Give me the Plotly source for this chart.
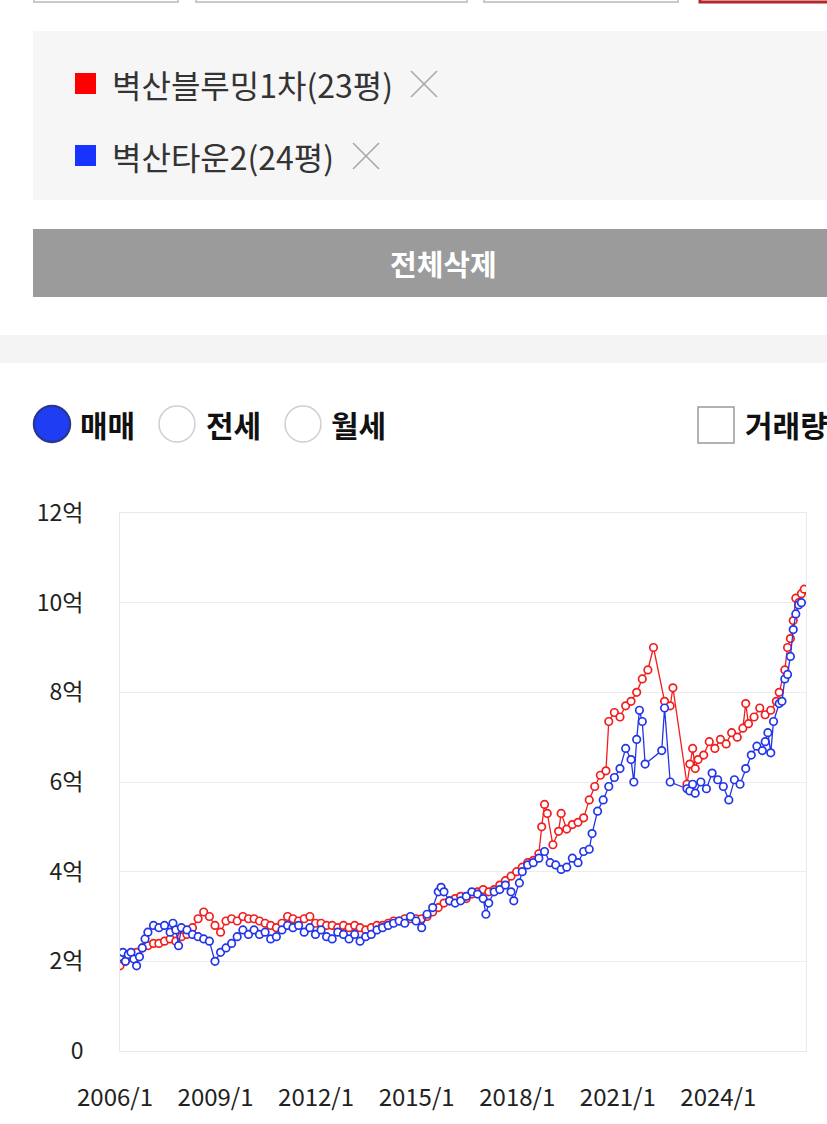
import plotly.graph_objects as go

# 시리즈 데이터 (단위: 억)
red_name = "벽산블루밍1차(23평)"
red_dates = [
    "2006-01", "2006-03", "2006-05", "2006-07", "2006-09", "2006-11",
    "2007-01", "2007-03", "2007-05", "2007-07", "2007-09", "2007-11",
    "2008-01", "2008-03", "2008-05", "2008-07", "2008-09", "2008-11",
    "2009-01", "2009-03", "2009-05", "2009-07", "2009-09", "2009-11",
    "2010-01", "2010-03", "2010-05", "2010-07", "2010-09", "2010-11",
    "2011-01", "2011-03", "2011-05", "2011-07", "2011-09", "2011-11",
    "2012-01", "2012-03", "2012-05", "2012-07", "2012-09", "2012-11",
    "2013-01", "2013-03", "2013-05", "2013-07", "2013-09", "2013-11",
    "2014-01", "2014-03", "2014-05", "2014-07", "2014-09", "2014-11",
    "2015-01", "2015-03", "2015-05", "2015-07", "2015-09", "2015-11",
    "2016-01", "2016-03", "2016-05", "2016-07", "2016-09", "2016-11",
    "2017-01", "2017-03", "2017-05", "2017-07", "2017-09", "2017-11",
    "2018-01", "2018-03", "2018-05", "2018-07", "2018-08", "2018-09", "2018-10", "2018-12",
    "2019-02", "2019-03", "2019-05", "2019-07", "2019-09", "2019-11",
    "2020-01", "2020-03", "2020-05", "2020-07", "2020-08", "2020-10", "2020-12",
    "2021-02", "2021-04", "2021-06", "2021-08", "2021-10", "2021-12",
    "2022-04", "2022-06", "2022-07", "2022-12",
    "2023-01", "2023-02", "2023-03", "2023-04", "2023-06", "2023-08", "2023-10", "2023-12",
    "2024-02", "2024-04", "2024-06", "2024-08", "2024-09", "2024-10", "2024-12",
    "2025-02", "2025-04", "2025-06", "2025-08", "2025-09", "2025-11", "2025-12",
    "2026-01", "2026-02", "2026-03", "2026-04", "2026-05", "2026-06",
]
red_values = [
    1.9, 2.0, 2.1, 2.2, 2.3, 2.35,
    2.4, 2.4, 2.45, 2.5, 2.45, 2.55,
    2.6, 2.75, 2.95, 3.1, 3.0, 2.8,
    2.65, 2.9, 2.95, 2.9, 3.0, 2.95,
    2.95, 2.9, 2.85, 2.8, 2.75, 2.85,
    3.0, 2.95, 2.9, 2.95, 3.0, 2.85,
    2.85, 2.8, 2.8, 2.75, 2.8, 2.75,
    2.8, 2.75, 2.7, 2.75, 2.8, 2.8,
    2.85, 2.9, 2.9, 2.95, 2.95, 2.95,
    2.95, 3.0, 3.1, 3.2, 3.3, 3.35,
    3.4, 3.45, 3.4, 3.5, 3.55, 3.6,
    3.55, 3.6, 3.7, 3.8, 3.9, 4.0,
    4.1, 4.2, 4.25, 4.4, 5.0, 5.5, 5.3, 4.6,
    4.9, 5.3, 4.95, 5.05, 5.1, 5.2,
    5.6, 5.9, 6.15, 6.25, 7.35, 7.55, 7.45,
    7.7, 7.8, 8.0, 8.3, 8.5, 9.0,
    7.8, 7.7, 8.1, 5.95,
    6.4, 6.75, 6.3, 6.5, 6.6, 6.9, 6.75, 6.95,
    6.85, 7.1, 7.0, 7.2, 7.75, 7.3, 7.45,
    7.65, 7.5, 7.6, 7.8, 8.0, 8.5, 9.0,
    9.2, 9.6, 10.1, 10.0, 10.2, 10.3,
]

blue_name = "벽산타운2(24평)"
blue_dates = [
    "2006-01", "2006-02", "2006-03", "2006-04", "2006-05", "2006-06",
    "2006-07", "2006-08", "2006-09", "2006-10", "2006-11",
    "2007-01", "2007-03", "2007-05", "2007-07", "2007-08", "2007-09", "2007-10", "2007-11",
    "2008-01", "2008-03", "2008-05", "2008-07", "2008-09", "2008-11",
    "2009-01", "2009-03", "2009-05", "2009-07", "2009-09", "2009-11",
    "2010-01", "2010-03", "2010-05", "2010-07", "2010-09", "2010-11",
    "2011-01", "2011-03", "2011-05", "2011-07", "2011-09", "2011-11",
    "2012-01", "2012-03", "2012-05", "2012-07", "2012-09", "2012-11",
    "2013-01", "2013-03", "2013-05", "2013-07", "2013-09", "2013-11",
    "2014-01", "2014-03", "2014-05", "2014-07", "2014-09", "2014-11",
    "2015-01", "2015-03", "2015-05", "2015-07", "2015-08", "2015-09", "2015-11",
    "2016-01", "2016-03", "2016-05", "2016-07", "2016-09", "2016-11", "2016-12",
    "2017-01", "2017-03", "2017-05", "2017-07", "2017-09", "2017-10", "2017-12",
    "2018-01", "2018-03", "2018-05", "2018-07", "2018-09", "2018-11",
    "2019-01", "2019-03", "2019-05", "2019-07", "2019-09", "2019-11",
    "2020-01", "2020-02", "2020-04", "2020-06", "2020-08", "2020-10", "2020-12",
    "2021-02", "2021-04", "2021-05", "2021-06", "2021-07", "2021-08", "2021-09",
    "2022-03", "2022-04", "2022-06", "2022-12",
    "2023-01", "2023-02", "2023-03", "2023-05", "2023-07", "2023-09", "2023-11",
    "2024-01", "2024-03", "2024-05", "2024-07", "2024-09", "2024-11",
    "2025-01", "2025-03", "2025-04", "2025-05", "2025-06", "2025-07", "2025-09",
    "2025-10", "2025-11", "2025-12",
    "2026-01", "2026-02", "2026-03", "2026-04", "2026-05",
]
blue_values = [
    2.1, 2.2, 2.0, 2.15, 2.2, 2.05,
    1.9, 2.1, 2.3, 2.5, 2.65,
    2.8, 2.75, 2.8, 2.65, 2.85, 2.7, 2.35, 2.75,
    2.7, 2.6, 2.55, 2.5, 2.45, 2.0,
    2.2, 2.3, 2.4, 2.55, 2.7, 2.6,
    2.7, 2.6, 2.65, 2.5, 2.55, 2.7,
    2.8, 2.75, 2.8, 2.65, 2.75, 2.6,
    2.7, 2.55, 2.5, 2.65, 2.6, 2.5,
    2.6, 2.45, 2.55, 2.6, 2.7, 2.75,
    2.8, 2.85, 2.9, 2.85, 3.0, 2.9,
    2.75, 3.05, 3.2, 3.55, 3.65, 3.55, 3.35,
    3.3, 3.35, 3.45, 3.55, 3.5, 3.4, 3.05,
    3.3, 3.55, 3.6, 3.7, 3.55, 3.35, 3.75,
    4.0, 4.15, 4.2, 4.3, 4.45, 4.2,
    4.15, 4.05, 4.1, 4.3, 4.2, 4.45,
    4.5, 4.85, 5.35, 5.6, 5.9, 6.1, 6.3,
    6.75, 6.5, 6.0, 6.95, 7.6, 7.35, 6.4,
    6.7, 7.65, 6.0, 5.85,
    5.8, 5.95, 5.75, 6.0, 5.85, 6.2, 6.05,
    5.9, 5.6, 6.05, 5.95, 6.3, 6.6,
    6.8, 6.7, 6.9, 7.1, 6.65, 7.35, 7.75,
    7.8, 8.3, 8.4,
    8.8, 9.4, 9.75, 9.95, 10.0,
]

y_ticks = [0, 2, 4, 6, 8, 10, 12]
y_labels = ["0", "2억", "4억", "6억", "8억", "10억", "12억"]
x_ticks = ["2006-01-01", "2009-01-01", "2012-01-01", "2015-01-01",
           "2018-01-01", "2021-01-01", "2024-01-01"]
x_labels = ["2006/1", "2009/1", "2012/1", "2015/1", "2018/1", "2021/1", "2024/1"]

trade_types = ["매매", "전세", "월세"]

RED = "#f21d1d"
BLUE = "#2235e8"
FONT = "Noto Sans CJK KR"

# 화면 픽셀 -> paper 좌표
W, H = 827, 1124
L, R, T, B = 120, 806, 513, 1051


def px(x):
    return (x - L) / (R - L)


def py(y):
    return (B - y) / (B - T)


fig = go.Figure()

for name, xs, ys, col in [(red_name, red_dates, red_values, RED),
                          (blue_name, blue_dates, blue_values, BLUE)]:
    fig.add_trace(go.Scatter(
        x=xs, y=ys, name=name, mode="lines+markers",
        line=dict(color=col, width=1.3),
        marker=dict(symbol="circle", size=7.5, color="white",
                    line=dict(color=col, width=1.7)),
    ))

shapes = []
annotations = []

# 상단 탭 테두리
for x0, x1, col, w in [(34, 178, "#c9c9c9", 2), (196, 467, "#c9c9c9", 2),
                       (484, 678, "#c9c9c9", 2), (700, 840, "#b3272b", 3)]:
    shapes.append(dict(type="rect", xref="paper", yref="paper",
                       x0=px(x0), x1=px(x1), y0=py(-30), y1=py(2),
                       line=dict(color=col, width=w), fillcolor="white"))

# 선택 단지 박스
shapes.append(dict(type="rect", xref="paper", yref="paper",
                   x0=px(33), x1=px(840), y0=py(200), y1=py(31),
                   line=dict(width=0), fillcolor="#f6f6f6", layer="below"))

for name, col, cy, xend in [(red_name, "#ff0000", 84, 410), (blue_name, "#1633ff", 156, 352)]:
    shapes.append(dict(type="rect", xref="paper", yref="paper",
                       x0=px(75), x1=px(96), y0=py(cy + 10), y1=py(cy - 11),
                       line=dict(width=0), fillcolor=col))
    annotations.append(dict(xref="paper", yref="paper", x=px(110), y=py(cy),
                            xanchor="left", yanchor="middle", showarrow=False,
                            text=name, font=dict(family=FONT, size=32, color="#333333")))
    # 삭제 X 표시
    for ya, yb in [(cy - 13, cy + 13), (cy + 13, cy - 13)]:
        shapes.append(dict(type="line", xref="paper", yref="paper",
                           x0=px(xend + 1), x1=px(xend + 27), y0=py(ya), y1=py(yb),
                           line=dict(color="#a8a8a8", width=1.6)))

# 전체삭제 버튼
shapes.append(dict(type="rect", xref="paper", yref="paper",
                   x0=px(33), x1=px(840), y0=py(297), y1=py(229),
                   line=dict(width=0), fillcolor="#9b9b9b"))
annotations.append(dict(xref="paper", yref="paper", x=px(443), y=py(263),
                        xanchor="center", yanchor="middle", showarrow=False,
                        text="<b>전체삭제</b>", font=dict(family=FONT, size=29, color="white")))

# 구분 띠
shapes.append(dict(type="rect", xref="paper", yref="paper",
                   x0=px(-10), x1=px(840), y0=py(363), y1=py(335),
                   line=dict(width=0), fillcolor="#f4f4f4"))

# 매매/전세/월세 라디오
for i, (cx, tx) in enumerate([(52, 78), (177, 204), (303, 329)]):
    if i == 0:
        shapes.append(dict(type="circle", xref="paper", yref="paper",
                           x0=px(cx - 18), x1=px(cx + 18), y0=py(442), y1=py(406),
                           line=dict(color="#27389a", width=2.5), fillcolor="#1f3df2"))
    else:
        shapes.append(dict(type="circle", xref="paper", yref="paper",
                           x0=px(cx - 18), x1=px(cx + 18), y0=py(442), y1=py(406),
                           line=dict(color="#cfcfcf", width=1.5), fillcolor="white"))
    annotations.append(dict(xref="paper", yref="paper", x=px(tx), y=py(424),
                            xanchor="left", yanchor="middle", showarrow=False,
                            text="<b>" + trade_types[i] + "</b>",
                            font=dict(family=FONT, size=30, color="#111111")))

# 거래량 체크박스
shapes.append(dict(type="rect", xref="paper", yref="paper",
                   x0=px(698), x1=px(734), y0=py(443), y1=py(407),
                   line=dict(color="#9a9a9a", width=1.5), fillcolor="white"))
annotations.append(dict(xref="paper", yref="paper", x=px(743), y=py(424),
                        xanchor="left", yanchor="middle", showarrow=False,
                        text="<b>거래량</b>", font=dict(family=FONT, size=30, color="#111111")))

fig.update_layout(
    width=W, height=H,
    margin=dict(l=L, r=W - R, t=T, b=H - B),
    paper_bgcolor="white", plot_bgcolor="white",
    showlegend=False,
    shapes=shapes, annotations=annotations,
    font=dict(family=FONT, size=23, color="#333333"),
    xaxis=dict(type="date", range=["2006-01-01", "2026-06-20"],
               tickvals=x_ticks, ticktext=x_labels,
               showgrid=False, zeroline=False,
               showline=True, mirror=True, linecolor="#e9e9e9", linewidth=1,
               ticks="", ticklabelstandoff=25, ticklabelshift=-5,
               tickfont=dict(family=FONT, size=24, color="#222222")),
    yaxis=dict(range=[0, 12], tickvals=y_ticks, ticktext=y_labels,
               showgrid=True, gridcolor="#ececec", gridwidth=1, zeroline=False,
               showline=True, mirror=True, linecolor="#e9e9e9", linewidth=1,
               ticks="", ticklabelstandoff=31,
               tickfont=dict(family=FONT, size=23, color="#222222")),
)

fig.write_html("out.html", config={"displayModeBar": False},
               post_script="document.body.style.margin='0';")
